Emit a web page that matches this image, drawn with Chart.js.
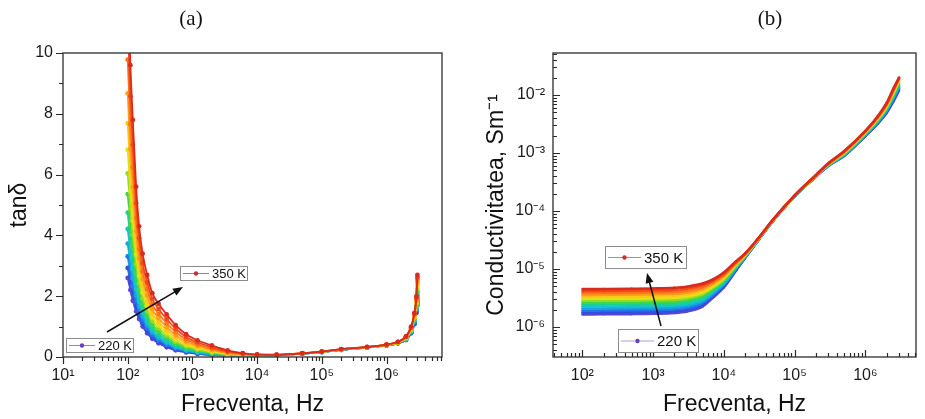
<!DOCTYPE html>
<html>
<head>
  <title>tan delta si conductivitate</title>
  <style>
    body { margin: 0; background: #fff; }
    #wrap { position: relative; width: 925px; height: 419px; overflow: hidden; }
    canvas { position: absolute; top: 0; }
  </style>
</head>
<body>
  <div id="wrap">
    <canvas id="tan-chart" width="460" height="419" style="left:0"></canvas>
    <canvas id="sigma-chart" width="465" height="419" style="left:460px"></canvas>
  </div>

  <script src="https://cdn.jsdelivr.net/npm/chart.js"></script>
  <script>
    // Temperaturi masurate (K)
    const tempsK = [220, 230, 240, 250, 260, 270, 280, 290, 300, 310, 320, 330, 340, 350];

    // Culori pentru fiecare temperatura (de la 220 K la 350 K)
    const tempColors = ['#5b44d2', '#2f4fe0', '#2276e6', '#18a2e4', '#14c4cc', '#1ccf90', '#3fd64a',
                        '#92dc22', '#dfe21a', '#ffc61c', '#ff9d1a', '#ff7418', '#f04a1a', '#d92a1e'];

    // (a) tan delta: frecvente (Hz) si cate un rand de valori pe frecventa (coloane = temperaturi)
    const freqA = [100, 110, 120, 135, 150, 170, 200, 240, 300, 400, 550, 800, 1200, 2000, 3500, 6000,
                   1e4, 2e4, 5e4, 1e5, 2e5, 5e5, 1e6, 1.5e6, 2e6, 2.4e6, 2.7e6, 2.9e6, 3e6];
    const tanDelta = [
      [2.6, 2.93, 3.31, 3.73, 4.21, 4.75, 5.36, 6.04, 6.82, 7.69, 8.67, 9.78, 11.0, 12.5],
      [2.2, 2.46, 2.76, 3.09, 3.46, 3.88, 4.35, 4.87, 5.45, 6.11, 6.84, 7.66, 8.58, 9.6],
      [1.85, 2.07, 2.31, 2.58, 2.88, 3.21, 3.59, 4.01, 4.48, 5.0, 5.59, 6.24, 6.97, 7.8],
      [1.5, 1.66, 1.84, 2.03, 2.25, 2.49, 2.75, 3.05, 3.37, 3.73, 4.13, 4.57, 5.06, 5.6],
      [1.25, 1.37, 1.51, 1.66, 1.83, 2.01, 2.21, 2.43, 2.67, 2.94, 3.23, 3.55, 3.91, 4.3],
      [1.0, 1.1, 1.21, 1.33, 1.46, 1.6, 1.76, 1.93, 2.12, 2.33, 2.56, 2.81, 3.09, 3.4],
      [0.78, 0.86, 0.94, 1.04, 1.14, 1.26, 1.38, 1.52, 1.67, 1.84, 2.02, 2.23, 2.45, 2.7],
      [0.6, 0.66, 0.73, 0.8, 0.88, 0.97, 1.07, 1.18, 1.3, 1.43, 1.57, 1.73, 1.91, 2.1],
      [0.45, 0.5, 0.55, 0.62, 0.68, 0.76, 0.84, 0.94, 1.04, 1.15, 1.28, 1.42, 1.58, 1.75],
      [0.32, 0.36, 0.4, 0.45, 0.5, 0.56, 0.63, 0.71, 0.79, 0.89, 0.99, 1.11, 1.25, 1.4],
      [0.22, 0.25, 0.28, 0.31, 0.35, 0.4, 0.45, 0.5, 0.57, 0.64, 0.72, 0.82, 0.93, 1.05],
      [0.15, 0.17, 0.19, 0.21, 0.24, 0.27, 0.31, 0.35, 0.4, 0.45, 0.51, 0.58, 0.66, 0.75],
      [0.1, 0.113, 0.128, 0.145, 0.165, 0.19, 0.215, 0.245, 0.28, 0.32, 0.37, 0.42, 0.48, 0.55],
      [0.06, 0.069, 0.079, 0.09, 0.103, 0.118, 0.135, 0.155, 0.178, 0.205, 0.235, 0.27, 0.32, 0.38],
      [0.04, 0.045, 0.05, 0.056, 0.063, 0.071, 0.08, 0.09, 0.102, 0.117, 0.135, 0.155, 0.185, 0.22],
      [0.03, 0.033, 0.036, 0.04, 0.044, 0.049, 0.054, 0.06, 0.067, 0.075, 0.085, 0.097, 0.112, 0.13],
      [0.03, 0.032, 0.034, 0.036, 0.039, 0.042, 0.045, 0.049, 0.053, 0.058, 0.063, 0.069, 0.076, 0.085],
      [0.05, 0.051, 0.053, 0.054, 0.056, 0.057, 0.059, 0.061, 0.063, 0.065, 0.067, 0.07, 0.073, 0.076],
      [0.11, 0.111, 0.112, 0.113, 0.114, 0.115, 0.116, 0.117, 0.118, 0.119, 0.12, 0.121, 0.122, 0.124],
      [0.16, 0.161, 0.162, 0.164, 0.165, 0.166, 0.168, 0.169, 0.17, 0.172, 0.173, 0.175, 0.177, 0.18],
      [0.235, 0.237, 0.238, 0.24, 0.241, 0.243, 0.244, 0.246, 0.248, 0.25, 0.252, 0.254, 0.257, 0.26],
      [0.31, 0.311, 0.312, 0.314, 0.315, 0.316, 0.318, 0.319, 0.32, 0.322, 0.324, 0.326, 0.328, 0.33],
      [0.38, 0.382, 0.384, 0.386, 0.388, 0.39, 0.392, 0.394, 0.396, 0.398, 0.4, 0.403, 0.406, 0.41],
      [0.45, 0.45, 0.46, 0.46, 0.46, 0.47, 0.47, 0.47, 0.48, 0.48, 0.49, 0.49, 0.5, 0.5],
      [0.56, 0.57, 0.58, 0.58, 0.59, 0.6, 0.61, 0.62, 0.63, 0.64, 0.65, 0.66, 0.67, 0.68],
      [0.78, 0.8, 0.81, 0.83, 0.84, 0.86, 0.87, 0.89, 0.9, 0.92, 0.94, 0.96, 0.98, 1.0],
      [1.08, 1.11, 1.14, 1.17, 1.2, 1.23, 1.26, 1.29, 1.31, 1.34, 1.37, 1.4, 1.42, 1.45],
      [1.45, 1.49, 1.53, 1.57, 1.61, 1.65, 1.69, 1.73, 1.77, 1.81, 1.85, 1.9, 1.95, 2.0],
      [1.7, 1.78, 1.85, 1.93, 2.01, 2.08, 2.16, 2.24, 2.32, 2.39, 2.47, 2.55, 2.62, 2.7]
    ];

    // (b) conductivitate in µS/m, acelasi format
    const freqB = [100, 200, 500, 1000, 2000, 3000, 5000, 7000, 1e4, 1.5e4, 2e4, 3e4, 5e4,
                   1e5, 2e5, 3e5, 5e5, 1e6, 1.5e6, 2e6, 2.5e6, 3e6];
    const sigmaMicro = [
      [1.65, 1.78, 1.92, 2.08, 2.25, 2.43, 2.62, 2.83, 3.06, 3.3, 3.57, 3.85, 4.16, 4.5],
      [1.66, 1.79, 1.93, 2.09, 2.26, 2.44, 2.63, 2.84, 3.07, 3.32, 3.59, 3.87, 4.18, 4.52],
      [1.67, 1.8, 1.94, 2.1, 2.27, 2.46, 2.65, 2.86, 3.09, 3.34, 3.61, 3.9, 4.21, 4.56],
      [1.69, 1.82, 1.96, 2.12, 2.29, 2.48, 2.68, 2.89, 3.12, 3.37, 3.65, 3.94, 4.26, 4.62],
      [1.74, 1.87, 2.02, 2.18, 2.35, 2.54, 2.75, 2.97, 3.2, 3.46, 3.74, 4.04, 4.37, 4.75],
      [1.85, 1.99, 2.14, 2.31, 2.49, 2.68, 2.89, 3.12, 3.36, 3.63, 3.92, 4.23, 4.57, 4.95],
      [2.25, 2.41, 2.58, 2.77, 2.97, 3.18, 3.41, 3.66, 3.93, 4.22, 4.53, 4.86, 5.22, 5.6],
      [3.2, 3.38, 3.58, 3.78, 4.0, 4.23, 4.47, 4.73, 5.0, 5.29, 5.6, 5.92, 6.26, 6.6],
      [4.8, 5.0, 5.25, 5.5, 5.75, 6.0, 6.3, 6.6, 6.9, 7.2, 7.55, 7.9, 8.3, 8.7],
      [9.5, 9.8, 10.1, 10.4, 10.7, 11.0, 11.3, 11.6, 11.9, 12.2, 12.5, 12.9, 13.3, 13.7],
      [15.5, 15.7, 15.9, 16.1, 16.3, 16.6, 16.8, 17.0, 17.3, 17.5, 17.8, 18.0, 18.3, 18.6],
      [30, 30.2, 30.4, 30.6, 30.8, 31, 31.2, 31.4, 31.6, 31.8, 32, 32.2, 32.5, 32.8],
      [68, 68.3, 68.6, 68.9, 69.2, 69.5, 69.8, 70, 70.3, 70.6, 70.9, 71.2, 71.5, 72],
      [178, 178.5, 179, 179.5, 180, 180.5, 181, 181.5, 182, 182.5, 183, 183.5, 184, 185],
      [390, 392, 394, 396, 398, 400, 402, 404, 406, 408, 410, 412, 414, 416],
      [600, 605, 610, 615, 620, 625, 630, 635, 640, 645, 650, 655, 660, 665],
      [890, 900, 910, 925, 940, 955, 970, 985, 1000, 1015, 1030, 1045, 1060, 1070],
      [1950, 1980, 2010, 2050, 2090, 2130, 2170, 2210, 2250, 2290, 2320, 2350, 2380, 2400],
      [3200, 3280, 3360, 3450, 3540, 3630, 3720, 3810, 3900, 3990, 4070, 4150, 4220, 4300],
      [4900, 5080, 5260, 5440, 5620, 5800, 5980, 6160, 6340, 6520, 6700, 6880, 7080, 7300],
      [7800, 8200, 8600, 9000, 9400, 9800, 10200, 10600, 11000, 11400, 11800, 12200, 12600, 13000],
      [12000, 12700, 13400, 14100, 14800, 15500, 16200, 16900, 17600, 18300, 19000, 19500, 19800, 20000]
    ];

    const SUP = { '0': '⁰', '1': '¹', '2': '²', '3': '³', '4': '⁴', '5': '⁵', '6': '⁶', '7': '⁷', '8': '⁸', '9': '⁹', '-': '⁻' };
    const sup = n => String(n).split('').map(c => SUP[c]).join('');

    // eticheta doar pentru puterile lui 10
    function decadeLabel(v) {
      const e = Math.round(Math.log10(v));
      return Math.abs(v / Math.pow(10, e) - 1) < 1e-6 ? '10' + sup(e) : '';
    }

    function logTickKind(v) {
      const e = Math.floor(Math.log10(v) + 1e-9);
      const m = v / Math.pow(10, e);
      if (Math.abs(m - 1) < 1e-6) return 'major';
      if (Math.abs(m - Math.round(m)) < 1e-6) return 'minor';
      return null;
    }

    function linTickKind(v) {
      return v % 2 === 0 ? 'major' : 'minor';
    }

    // chenar, gradatii, titlu (a)/(b), casete cu temperaturi si sageata
    const axisFrame = {
      id: 'axisFrame',
      afterDraw(chart, args, o) {
        const { ctx, chartArea: a, scales } = chart;
        ctx.save();
        ctx.strokeStyle = '#3c3c3c';
        ctx.lineWidth = 1.4;
        ctx.strokeRect(a.left, a.top, a.right - a.left, a.bottom - a.top);

        const d = o.inward ? -1 : 1;
        ctx.strokeStyle = '#2a2a2a';
        ctx.lineWidth = 1.2;
        ctx.beginPath();
        scales.x.ticks.forEach(t => {
          const k = logTickKind(t.value);
          if (!k) return;
          const px = Math.round(scales.x.getPixelForValue(t.value)) + 0.5;
          if (px < a.left - 1 || px > a.right + 1) return;
          const len = k === 'major' ? 7 : 4;
          ctx.moveTo(px, a.bottom);
          ctx.lineTo(px, a.bottom + d * len);
        });
        scales.y.ticks.forEach(t => {
          const k = o.yLog ? logTickKind(t.value) : linTickKind(t.value);
          if (!k) return;
          const py = Math.round(scales.y.getPixelForValue(t.value)) + 0.5;
          if (py < a.top - 1 || py > a.bottom + 1) return;
          const len = k === 'major' ? 7 : 4;
          ctx.moveTo(a.left, py);
          ctx.lineTo(a.left - d * len, py);
        });
        ctx.stroke();

        ctx.fillStyle = '#111';
        ctx.font = '21px "Liberation Serif", "Times New Roman", serif';
        ctx.textAlign = 'center';
        ctx.textBaseline = 'middle';
        ctx.fillText(o.caption, o.captionX, 19);

        o.tags.forEach(tg => {
          ctx.fillStyle = '#fff';
          ctx.fillRect(tg.x, tg.y, tg.w, tg.h);
          ctx.strokeStyle = '#8c8c8c';
          ctx.lineWidth = 1;
          ctx.strokeRect(tg.x + 0.5, tg.y + 0.5, tg.w, tg.h);
          const cy = tg.y + tg.h / 2 + 0.5;
          ctx.strokeStyle = tg.line;
          ctx.beginPath();
          ctx.moveTo(tg.x + 3, cy);
          ctx.lineTo(tg.x + 3 + tg.lineLen, cy);
          ctx.stroke();
          ctx.fillStyle = tg.dot;
          ctx.beginPath();
          ctx.arc(tg.x + 3 + tg.lineLen / 2, cy, 2.2, 0, Math.PI * 2);
          ctx.fill();
          ctx.fillStyle = '#111';
          ctx.font = tg.font;
          ctx.textAlign = 'left';
          ctx.fillText(tg.text, tg.x + 6 + tg.lineLen, cy + 1);
        });

        const [x1, y1, x2, y2] = o.arrow;
        const ang = Math.atan2(y2 - y1, x2 - x1);
        ctx.strokeStyle = '#111';
        ctx.fillStyle = '#111';
        ctx.lineWidth = 1.5;
        ctx.beginPath();
        ctx.moveTo(x1, y1);
        ctx.lineTo(x2 - 6 * Math.cos(ang), y2 - 6 * Math.sin(ang));
        ctx.stroke();
        ctx.beginPath();
        ctx.moveTo(x2, y2);
        ctx.lineTo(x2 - 10 * Math.cos(ang) + 4 * Math.sin(ang), y2 - 10 * Math.sin(ang) - 4 * Math.cos(ang));
        ctx.lineTo(x2 - 10 * Math.cos(ang) - 4 * Math.sin(ang), y2 - 10 * Math.sin(ang) + 4 * Math.cos(ang));
        ctx.closePath();
        ctx.fill();
        ctx.restore();
      }
    };

    // o serie pe temperatura; 350 K desenata ultima (deasupra)
    function buildSets(freqs, rows, unit, style) {
      return tempsK.map((t, j) => Object.assign({
        label: t + ' K',
        data: freqs.map((f, i) => ({ x: f, y: rows[i][j] * unit })),
        order: tempsK.length - j,
        borderColor: tempColors[j],
        backgroundColor: tempColors[j],
        pointBackgroundColor: tempColors[j],
        pointBorderWidth: 0,
        cubicInterpolationMode: 'monotone'
      }, style));
    }

    const tickFont = { family: '"Liberation Sans", Arial, sans-serif', size: 16 };
    const titleFont = { family: '"Liberation Sans", Arial, sans-serif', size: 23 };

    function xAxis(min, max) {
      return {
        type: 'logarithmic',
        min: min,
        max: max,
        grid: { display: false, drawTicks: false },
        border: { display: false },
        ticks: {
          autoSkip: false, maxRotation: 0, padding: 9, color: '#1a1a1a', font: tickFont,
          callback: v => decadeLabel(v)
        },
        title: { display: true, text: 'Frecventa, Hz', color: '#111', font: titleFont, padding: { top: 0, bottom: 1 } },
        afterFit: s => { s.height = 62; }
      };
    }

    // (a) tan delta
    new Chart(document.getElementById('tan-chart'), {
      type: 'line',
      data: { datasets: buildSets(freqA, tanDelta, 1, { borderWidth: 1.8, pointRadius: 2.4 }) },
      options: {
        responsive: false,
        animation: false,
        layout: { padding: { top: 53, right: 18, left: 0, bottom: 0 } },
        plugins: {
          legend: { display: false },
          tooltip: { enabled: false },
          axisFrame: {
            inward: false, yLog: false, caption: '(a)', captionX: 191,
            tags: [
              { text: '220 K', x: 66, y: 338, w: 67, h: 14, lineLen: 26, line: '#9a7fd6', dot: '#6a3cc0', font: '13px "Liberation Sans", Arial, sans-serif' },
              { text: '350 K', x: 180, y: 266, w: 67, h: 14, lineLen: 26, line: '#d96a5a', dot: '#c8302a', font: '13px "Liberation Sans", Arial, sans-serif' }
            ],
            arrow: [107, 332, 183, 287]
          }
        },
        scales: {
          x: xAxis(10, 7.2e6),
          y: {
            type: 'linear',
            min: 0,
            max: 10,
            grid: { display: false, drawTicks: false },
            border: { display: false },
            ticks: {
              stepSize: 1, autoSkip: false, padding: 10, color: '#1a1a1a', font: tickFont,
              callback: v => (v % 2 === 0 ? String(v) : '')
            },
            title: { display: true, text: 'tanδ', color: '#111', font: titleFont, padding: { top: 6, bottom: 0 } },
            afterFit: s => { s.width = 63; }
          }
        }
      },
      plugins: [axisFrame]
    });

    // (b) conductivitate
    new Chart(document.getElementById('sigma-chart'), {
      type: 'line',
      data: { datasets: buildSets(freqB, sigmaMicro, 1e-6, { borderWidth: 2.6, pointRadius: 1.2 }) },
      options: {
        responsive: false,
        animation: false,
        layout: { padding: { top: 53, right: 1, left: 0, bottom: 0 } },
        plugins: {
          legend: { display: false },
          tooltip: { enabled: false },
          axisFrame: {
            inward: true, yLog: true, caption: '(b)', captionX: 310,
            tags: [
              { text: '350 K', x: 145, y: 246, w: 81, h: 22, lineLen: 33, line: '#e07a70', dot: '#c8302a', font: '15px "Liberation Sans", Arial, sans-serif' },
              { text: '220 K', x: 158, y: 329, w: 80, h: 23, lineLen: 33, line: '#b39ae0', dot: '#6a3cc0', font: '15px "Liberation Sans", Arial, sans-serif' }
            ],
            arrow: [201, 326, 187, 273]
          }
        },
        scales: {
          x: xAxis(38.5, 5.2e6),
          y: {
            type: 'logarithmic',
            min: 3.04e-7,
            max: 0.053,
            grid: { display: false, drawTicks: false },
            border: { display: false },
            ticks: {
              autoSkip: false, padding: 8, color: '#1a1a1a', font: tickFont,
              callback: v => decadeLabel(v)
            },
            title: { display: true, text: 'Conductivitatea, Sm⁻¹', color: '#111', font: titleFont, padding: { top: 23, bottom: 0 } },
            afterFit: s => { s.width = 93; }
          }
        }
      },
      plugins: [axisFrame]
    });
  </script>
</body>
</html>
